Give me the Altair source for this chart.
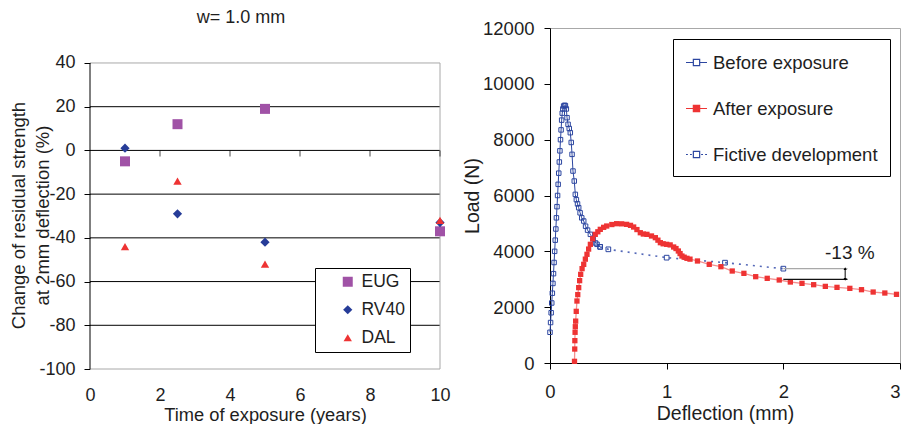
import altair as alt
import pandas as pd

# ---------------- left panel data ----------------
years = [1, 2.5, 5, 10]
eug = [-5, 12, 19, -37]
rv40 = [1, -29, -42, -33]
dal = [-44, -14, -52, -32]
series_left = ["EUG", "RV40", "DAL"]
colors_left = ["#A052A6", "#263C98", "#EE3333"]
shapes_left = ["square", "diamond", "triangle-up"]
sizes_left = [100, 70, 95]
grid_left = [40, 20, 0, -20, -40, -60, -80, -100]
grid_colors = ["#A8A8A8", "black", "black", "black", "black", "black", "black", "#A8A8A8"]
zero_ticks = [2, 4, 6, 8, 10]
xticks_left = [0, 2, 4, 6, 8, 10]
yticks_left = [-100, -80, -60, -40, -20, 0, 20, 40]

# ---------------- right panel data ----------------
before_x = [0.0, 0.005, 0.01, 0.015, 0.02, 0.025, 0.03, 0.035, 0.04, 0.045, 0.05, 0.055,
            0.06, 0.065, 0.07, 0.075, 0.08, 0.085, 0.09, 0.095, 0.1, 0.105, 0.11, 0.117,
            0.125, 0.132, 0.14, 0.146, 0.155, 0.165, 0.174, 0.182, 0.189, 0.197, 0.208,
            0.217, 0.226, 0.236, 0.246, 0.258, 0.272, 0.289, 0.305, 0.322, 0.346, 0.37,
            0.39, 0.403, 0.43]
before_y = [1100, 1450, 1800, 2150, 2500, 2850, 3200, 3600, 4000, 4400, 4800, 5200,
            5600, 6000, 6400, 6800, 7200, 7600, 8000, 8350, 8700, 8950, 9100, 9205,
            9230, 9220, 9100, 8787, 8550, 8400, 8250, 7900, 7474, 6876, 6518,
            6040, 5850, 5700, 5563, 5380, 5200, 5086, 4900, 4760, 4609, 4430,
            4300, 4251, 4160]
fictive_x = [0.43, 0.5, 1.0, 1.5, 2.0]
fictive_y = [4160, 4072, 3773, 3594, 3379]
after_x = [0.21, 0.212, 0.213, 0.215, 0.217, 0.22, 0.225, 0.231, 0.238, 0.246, 0.254,
           0.263, 0.275, 0.289, 0.303, 0.317, 0.331, 0.346, 0.366, 0.388, 0.41, 0.431,
           0.46, 0.486, 0.53, 0.571, 0.614, 0.657, 0.69, 0.717, 0.745, 0.774, 0.8, 0.831,
           0.87, 0.903, 0.925, 0.946, 0.97, 1.0, 1.03, 1.06, 1.08, 1.1, 1.115, 1.131,
           1.15, 1.174, 1.2, 1.264, 1.365, 1.465, 1.562, 1.662, 1.763, 1.862, 1.965,
           2.06, 2.16, 2.26, 2.36, 2.46, 2.57, 2.67, 2.77, 2.87, 2.97]
after_y = [60, 500, 800, 1100, 1300, 1500, 1850, 2220, 2450, 2700, 2950,
           3175, 3380, 3534, 3720, 3893, 4080, 4251, 4450, 4609, 4700, 4788,
           4860, 4907, 4960, 4990, 4985, 4966, 4930, 4871, 4780, 4667, 4620, 4609,
           4550, 4489, 4400, 4310, 4270, 4251, 4230, 4155, 4100, 4012, 3920, 3832,
           3790, 3750, 3720, 3654, 3534, 3450, 3295, 3212, 3092, 3033, 2973,
           2901, 2853, 2805, 2745, 2710, 2674, 2626, 2542, 2507, 2460]
series_right = ["Before exposure", "After exposure", "Fictive development"]
blue = "#2C46A0"
red = "#EE3333"
diff_x = [2.0, 2.55]
diff_y = [3379, 2998]
diff_colors = ["#A8A8A8", "#111111"]
arrow_x = 2.53
diff_label = "-13 %"
label_x = 2.57
label_y = 3950
xticks_right = [0, 1, 2, 3]
yticks_right = [0, 2000, 4000, 6000, 8000, 10000, 12000]

FONT = "Liberation Sans"
TXT = "#1e1e1e"
FRAME = "#A8A8A8"
HYPHEN = "'' + datum.value"

# ================= left chart =================
df_left = pd.DataFrame({
    "t": years * 3,
    "v": eug + rv40 + dal,
    "s": ["EUG"] * 4 + ["RV40"] * 4 + ["DAL"] * 4,
})
xs_l = alt.Scale(domain=[0, 10], nice=False)
# the y range continues above 40 so that the plot can start lower than the right panel
ys_l = alt.Scale(domain=[-100, 56], nice=False, zero=False)
x_axis_l = alt.Axis(values=xticks_left, ticks=False, domain=False, grid=False,
                    labelFontSize=18, labelPadding=17, labelColor=TXT, labelExpr=HYPHEN,
                    labelFlush=False,
                    title="Time of exposure (years)", titleFontSize=18.3,
                    titleFontWeight="normal", titleColor=TXT, titlePadding=2)
y_axis_l = alt.Axis(values=yticks_left, grid=False, domain=False,
                    ticks=True, tickColor="black", tickSize=6, labelFontSize=18,
                    labelPadding=9, labelColor=TXT, labelExpr=HYPHEN,
                    title=["Change of residual strength", "at 2mm deflection (%)"],
                    titleFontSize=18.5, titleFontWeight="normal", titleColor=TXT,
                    titleLineHeight=24, titleX=-62, titleY=187)

X_l = alt.X("t:Q", scale=xs_l, axis=x_axis_l)
Y_l = alt.Y("v:Q", scale=ys_l, axis=y_axis_l)

grid_layer = alt.Chart(pd.DataFrame({"v": grid_left, "c": grid_colors})).mark_rule(
    strokeWidth=1).encode(y=Y_l, color=alt.Color("c:N", scale=None))

frame_df = pd.DataFrame({"t": [0, 10], "v": [-100, -100], "v2": [40, 40],
                         "c": ["black", FRAME]})
frame_layer = alt.Chart(frame_df).mark_rule(strokeWidth=1).encode(
    x=X_l, y=Y_l, y2="v2:Q", color=alt.Color("c:N", scale=None))

tick_layer = alt.Chart(pd.DataFrame({"t": zero_ticks, "v": [0] * len(zero_ticks)})).mark_tick(
    orient="vertical", size=6, thickness=1, yOffset=3, color="black").encode(x=X_l, y=Y_l)

leg_l = alt.Legend(title=None, orient="none", legendX=225, legendY=240,
                   strokeColor="black", fillColor="white", padding=5, symbolOffset=19,
                   labelFontSize=17.5, labelColor=TXT, rowPadding=9, symbolSize=95,
                   symbolStrokeWidth=0, labelOffset=5,
                   labelExpr="datum.label + '" + "\u00a0" * 10 + "'")

pts_left = alt.Chart(df_left).mark_point(filled=True, opacity=1).encode(
    x=X_l, y=Y_l,
    color=alt.Color("s:N", scale=alt.Scale(domain=series_left, range=colors_left), legend=leg_l),
    shape=alt.Shape("s:N", scale=alt.Scale(domain=series_left, range=shapes_left), legend=leg_l),
    size=alt.Size("s:N", scale=alt.Scale(domain=series_left, range=sizes_left), legend=None),
)

left = alt.layer(grid_layer, frame_layer, tick_layer, pts_left).properties(
    width=350, height=341,
    view=alt.ViewBackground(stroke="transparent"),
    title=alt.TitleParams("w= 1.0 mm", fontSize=18, fontWeight="normal", color=TXT,
                          offset=1, dx=-24, font=FONT),
)

# ================= right chart =================
df_before = pd.DataFrame({"d": before_x, "L": before_y, "i": range(len(before_x))})
df_after = pd.DataFrame({"d": after_x, "L": after_y, "i": range(len(after_x))})
df_fict = pd.DataFrame({"d": fictive_x, "L": fictive_y, "i": range(len(fictive_x)),
                        "s": series_right[2]})
xs_r = alt.Scale(domain=[0, 3], nice=False)
ys_r = alt.Scale(domain=[0, 12000], nice=False)
x_axis_r = alt.Axis(values=xticks_right, grid=False, domain=True, domainColor="black",
                    ticks=True, tickColor="black", tickSize=6, labelFontSize=18.5,
                    labelPadding=13, labelColor=TXT, labelFlush=False,
                    labelAlign={"condition": {"test": "datum.value == 3", "value": "right"},
                                "value": "center"},
                    title="Deflection (mm)",
                    titleFontSize=19.5, titleFontWeight="normal", titleColor=TXT,
                    titlePadding=4, format="d")
y_axis_r = alt.Axis(values=yticks_right, grid=False, domain=True, domainColor="black",
                    ticks=True, tickColor="black", tickSize=6, labelFontSize=18.5,
                    labelPadding=10, labelColor=TXT, title="Load (N)",
                    titleFontSize=19.5, titleFontWeight="normal", titleColor=TXT,
                    titlePadding=0, format="d")
X_r = alt.X("d:Q", scale=xs_r, axis=x_axis_r)
Y_r = alt.Y("L:Q", scale=ys_r, axis=y_axis_r)

before_line = alt.Chart(df_before).mark_line(color=blue, strokeWidth=1).encode(
    x=X_r, y=Y_r, order="i:Q")
before_pts = alt.Chart(df_before).mark_point(shape="square", size=20, filled=False,
                                             color=blue, strokeWidth=1, opacity=1).encode(x=X_r, y=Y_r)
after_line = alt.Chart(df_after).mark_line(color="#F49090", strokeWidth=1.3).encode(
    x=X_r, y=Y_r, order="i:Q")
after_pts = alt.Chart(df_after).mark_point(shape="square", size=28, filled=True,
                                           color=red, opacity=1).encode(x=X_r, y=Y_r)
fict_line = alt.Chart(df_fict).mark_line(color="#5468B8", strokeWidth=1.6,
                                         strokeDash=[2, 5]).encode(x=X_r, y=Y_r, order="i:Q")
fict_pts = alt.Chart(df_fict).mark_point(shape="square", size=22, filled=False,
                                         color=blue, strokeWidth=1, opacity=1).encode(x=X_r, y=Y_r)

df_diff = pd.DataFrame({"d": [diff_x[0]] * 2, "d2": [diff_x[1]] * 2, "L": diff_y, "c": diff_colors})
diff_rules = alt.Chart(df_diff).mark_rule(strokeWidth=1.2).encode(
    x=X_r, x2="d2:Q", y=Y_r, color=alt.Color("c:N", scale=None))
df_arrow = pd.DataFrame({"d": [arrow_x], "L": [diff_y[0]], "L2": [diff_y[1]]})
arrow_rule = alt.Chart(df_arrow).mark_rule(color="black", strokeWidth=1).encode(
    x=X_r, y=Y_r, y2="L2:Q")
df_heads = pd.DataFrame({"d": [arrow_x, arrow_x], "L": diff_y,
                         "sh": ["triangle-up", "triangle-down"]})
arrow_heads = alt.Chart(df_heads).mark_point(filled=True, size=10, color="black", opacity=1).encode(
    x=X_r, y=Y_r, shape=alt.Shape("sh:N", scale=None))
df_lab = pd.DataFrame({"d": [label_x], "L": [label_y], "t": [diff_label]})
lab = alt.Chart(df_lab).mark_text(fontSize=19, color=TXT, font=FONT).encode(
    x=X_r, y=Y_r, text="t:N")

p = "M-1,0L-0.3,0M0.3,0L1,0M-0.3,-0.3L0.3,-0.3L0.3,0.3L-0.3,0.3Z"
pd_ = ("M-1,0L-0.82,0M-0.62,0L-0.44,0M0.44,0L0.62,0M0.82,0L1,0"
       "M-0.3,-0.3L0.3,-0.3L0.3,0.3L-0.3,0.3Z")
leg_r = alt.Legend(title=None, orient="none", legendX=123, legendY=11,
                   strokeColor="black", fillColor="white", padding=12,
                   symbolSize=441, symbolStrokeWidth=1.2, labelFontSize=18.5,
                   labelColor=TXT, rowPadding=25, labelOffset=5, labelLimit=400,
                   labelExpr="datum.label + '\u00a0'")
legend_layer = alt.Chart(df_fict).transform_filter("false").mark_point(opacity=1).encode(
    x=X_r, y=Y_r,
    shape=alt.Shape("s:N", scale=alt.Scale(domain=series_right, range=[p, p, pd_]), legend=leg_r),
    stroke=alt.Stroke("s:N", scale=alt.Scale(domain=series_right, range=[blue, red, blue]), legend=leg_r),
    fill=alt.Fill("s:N", scale=alt.Scale(domain=series_right, range=["white", red, "white"]), legend=leg_r),
)

right = alt.layer(before_line, before_pts, fict_line, fict_pts, after_line, after_pts,
                  diff_rules, arrow_rule, arrow_heads, lab, legend_layer).properties(
    width=350, height=335,
)

chart = alt.hconcat(left, right, spacing=11).resolve_scale(
    color="independent", shape="independent", size="independent",
    fill="independent", stroke="independent",
).resolve_legend(
    color="independent", shape="independent", size="independent",
    fill="independent", stroke="independent",
).properties(
    padding={"left": 0, "top": 0, "right": 0, "bottom": 0}
).configure(font=FONT).configure_view(stroke=FRAME, strokeWidth=1)

chart.save("out.html", embed_options={"renderer": "svg", "actions": False})
